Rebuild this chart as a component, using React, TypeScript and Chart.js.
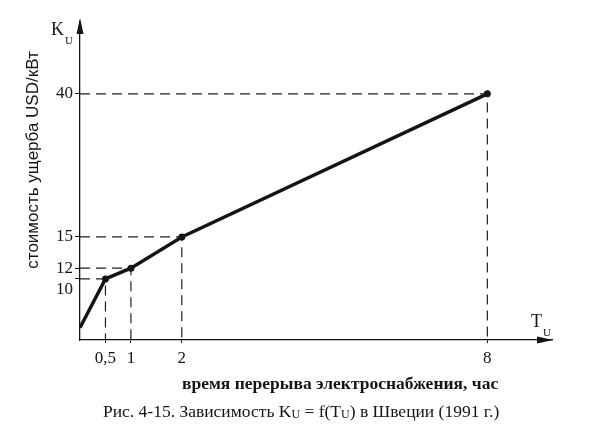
import React, { useEffect, useRef } from 'react';
import { Chart, registerables, LinearScale } from 'chart.js';

// ---- data ----
const T_VALUES = [0, 0.5, 1, 2, 8];
const K_VALUES = [2, 10, 12, 15, 40];
const X_TICKS = [0.5, 1, 2, 8];
const Y_TICKS = [10, 12, 15, 40];

const Y_TITLE = 'стоимость ущерба USD/кВт';
const X_TITLE = 'время перерыва электроснабжения, час';

// ---- non-uniform (schematic) value axis definition ----
const Y_BREAK_VALUES = [0, 10, 12, 15, 40, 52.5];
const Y_BREAK_FRACTIONS = [0, 0.192, 0.226, 0.324, 0.774, 1];

function valueToFrac(v: number): number {
  const vs = Y_BREAK_VALUES, fs = Y_BREAK_FRACTIONS;
  let i = 0;
  while (i < vs.length - 2 && v > vs[i + 1]) i++;
  const t = (v - vs[i]) / (vs[i + 1] - vs[i]);
  return fs[i] + t * (fs[i + 1] - fs[i]);
}
function fracToValue(f: number): number {
  const vs = Y_BREAK_VALUES, fs = Y_BREAK_FRACTIONS;
  let i = 0;
  while (i < fs.length - 2 && f > fs[i + 1]) i++;
  const t = (f - fs[i]) / (fs[i + 1] - fs[i]);
  return vs[i] + t * (vs[i + 1] - vs[i]);
}

class PiecewiseScale extends LinearScale {
  static id = 'piecewise';
  static defaults = LinearScale.defaults;
  getPixelForValue(value: number) {
    return this.getPixelForDecimal(valueToFrac(value));
  }
  getValueForPixel(pixel: number) {
    return fracToValue(this.getDecimalForPixel(pixel));
  }
}

Chart.register(...registerables, PiecewiseScale as any);

const INK = '#141414';
const SERIF = '"Liberation Serif", "DejaVu Serif", serif';
const SANS = '"Liberation Sans", Arial, sans-serif';

const decorPlugin = {
  id: 'decor',
  afterDraw(chart: any) {
    const ctx: CanvasRenderingContext2D = chart.ctx;
    const { left, top, right, bottom } = chart.chartArea;
    ctx.save();
    ctx.fillStyle = INK;
    // y arrow
    ctx.beginPath();
    ctx.moveTo(left, top - 4);
    ctx.lineTo(left - 3.5, top + 12);
    ctx.lineTo(left + 3.5, top + 12);
    ctx.closePath();
    ctx.fill();
    // x arrow
    ctx.beginPath();
    ctx.moveTo(right + 1, bottom);
    ctx.lineTo(right - 15, bottom - 3.5);
    ctx.lineTo(right - 15, bottom + 3.5);
    ctx.closePath();
    ctx.fill();

    ctx.textBaseline = 'middle';
    ctx.textAlign = 'left';
    // K_U
    ctx.font = `18px ${SERIF}`;
    ctx.fillText('K', 51, 30);
    ctx.font = `11px ${SERIF}`;
    ctx.fillText('U', 65, 41);
    // T_U
    ctx.font = `18px ${SERIF}`;
    ctx.fillText('T', 531, 322);
    ctx.font = `11px ${SERIF}`;
    ctx.fillText('U', 543, 333);

    // y title
    ctx.save();
    ctx.translate(33, 160);
    ctx.rotate(-Math.PI / 2);
    ctx.textAlign = 'center';
    ctx.font = `17px ${SANS}`;
    ctx.fillText(Y_TITLE, 0, 0);
    ctx.restore();

    // x title
    ctx.font = `bold 17.5px ${SERIF}`;
    ctx.textAlign = 'left';
    ctx.fillText(X_TITLE, 182, 384);

    // caption
    const segs: [string, boolean][] = [
      ['Рис. 4-15. Зависимость K', false],
      ['U', true],
      [' = f(T', false],
      ['U', true],
      [') в Швеции (1991 г.)', false],
    ];
    let x = 103;
    const y = 412;
    for (const [s, sub] of segs) {
      ctx.font = sub ? `12px ${SERIF}` : `17.5px ${SERIF}`;
      ctx.fillText(s, x, sub ? y + 3 : y);
      x += ctx.measureText(s).width;
    }
    ctx.restore();
  },
};

export default function App() {
  const ref = useRef<HTMLCanvasElement>(null);
  useEffect(() => {
    if (!ref.current) return;
    const mainData = T_VALUES.map((t, i) => ({ x: t, y: K_VALUES[i] }));
    const guides = T_VALUES.map((t, i) => ({ t, k: K_VALUES[i] }))
      .filter((p) => p.t > 0)
      .map((p) => ({
        data: [
          { x: 0, y: p.k },
          { x: p.t, y: p.k },
          { x: p.t, y: 0 },
        ],
        borderColor: '#1e1e1e',
        borderWidth: 1.2,
        borderDash: [10, 6],
        pointRadius: 0,
        fill: false,
        tension: 0,
      }));
    const chart = new Chart(ref.current, {
      type: 'line',
      data: {
        datasets: [
          {
            data: mainData,
            borderColor: INK,
            borderWidth: 3.4,
            pointRadius: (c: any) => (c.dataIndex === 0 ? 0 : 3.5),
            pointBackgroundColor: INK,
            pointBorderColor: INK,
            pointBorderWidth: 0,
            fill: false,
            tension: 0,
          },
          ...guides,
        ] as any,
      },
      options: {
        animation: false,
        responsive: false,
        events: [],
        layout: { padding: { top: 22, right: 41, left: 0, bottom: 0 } },
        plugins: { legend: { display: false }, tooltip: { enabled: false }, title: { display: false } },
        scales: {
          x: {
            type: 'linear',
            min: 0,
            max: 9.27,
            afterFit: (s: any) => { s.height = 97; },
            afterBuildTicks: (s: any) => { s.ticks = X_TICKS.map((v) => ({ value: v })); },
            ticks: {
              autoSkip: false,
              maxRotation: 0,
              padding: 5,
              color: INK,
              font: { family: SERIF, size: 17 },
              callback: (v: any) => String(v).replace('.', ','),
            },
            grid: { drawOnChartArea: false, drawTicks: true, tickLength: 3, color: INK, lineWidth: 1 },
            border: { display: true, color: INK, width: 1.3 },
          },
          y: {
            type: 'piecewise' as any,
            min: 0,
            max: 52.5,
            afterFit: (s: any) => { s.width = 80; },
            afterBuildTicks: (s: any) => { s.ticks = Y_TICKS.map((v) => ({ value: v })); },
            ticks: {
              autoSkip: false,
              padding: 2,
              color: INK,
              font: { family: SERIF, size: 17 },
              callback: (v: any) => (v === 10 ? ['', '10'] : String(v)),
            },
            grid: { drawOnChartArea: false, drawTicks: true, tickLength: 5, color: INK, lineWidth: 1 },
            border: { display: true, color: INK, width: 1.3 },
          },
        },
      } as any,
      plugins: [decorPlugin],
    });
    return () => chart.destroy();
  }, []);
  return (
    <div style={{ position: 'fixed', left: 0, top: 0, width: 593, height: 437, background: '#fff' }}>
      <canvas ref={ref} width={593} height={437} style={{ display: 'block' }} />
    </div>
  );
}
